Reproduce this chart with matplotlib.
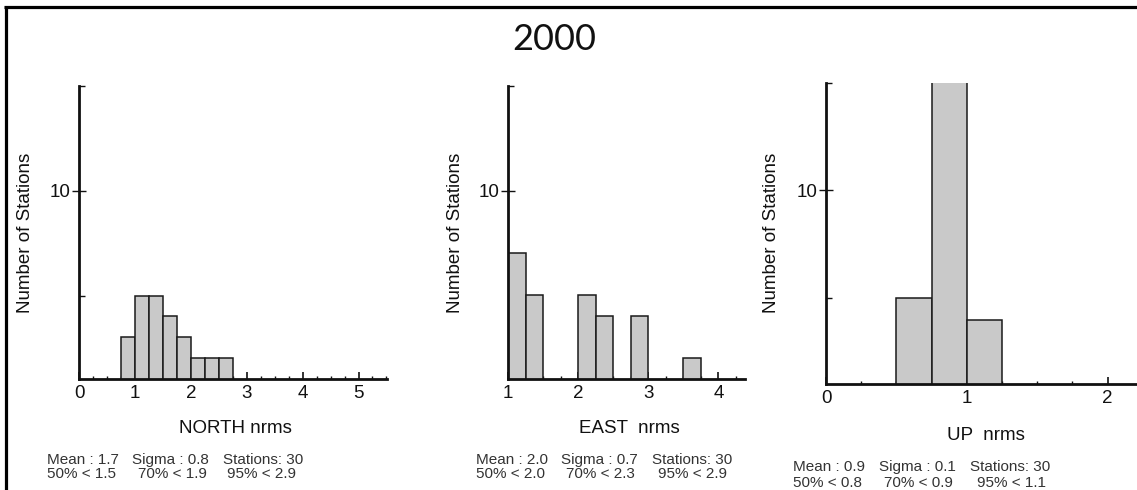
import matplotlib
matplotlib.use("Agg")
import matplotlib.pyplot as plt
from matplotlib.lines import Line2D
from matplotlib.ticker import FixedLocator, MultipleLocator

# ---------------- data ----------------
title = "2000"
bin_width = 0.25

north_bin_left = [0.75, 1.00, 1.25, 1.50, 1.75, 2.00, 2.25, 2.50]
north_counts = [3, 5, 5, 4, 3, 2, 2, 2]

east_bin_left = [1.00, 1.25, 2.00, 2.25, 2.75, 3.50]
east_counts = [7, 5, 5, 4, 4, 2]

up_bin_left = [0.50, 0.75, 1.00]
up_counts = [5, 21, 4]

x_labels = ["NORTH nrms", "EAST  nrms", "UP  nrms"]
y_label = "Number of Stations"

stats_line1 = [["Mean : 1.7", "Sigma : 0.8", "Stations: 30"],
               ["Mean : 2.0", "Sigma : 0.7", "Stations: 30"],
               ["Mean : 0.9", "Sigma : 0.1", "Stations: 30"]]
stats_line2 = [["50% < 1.5", "70% < 1.9", "95% < 2.9"],
               ["50% < 2.0", "70% < 2.3", "95% < 2.9"],
               ["50% < 0.8", "70% < 0.9", "95% < 1.1"]]

x_major_ticks = [[0, 1, 2, 3, 4, 5], [1, 2, 3, 4], [0, 1, 2]]
y_major_ticks = [10]
y_minor_ticks = [5, 15]

# ---------------- layout ----------------
W, H = 1137, 490
fig = plt.figure(figsize=(W / 100, H / 100), dpi=100)
fig.patch.set_facecolor("white")

def px(x, y):
    return x / W, 1 - y / H

def ax_rect(left, bottom, right, top):
    return [left / W, 1 - bottom / H, (right - left) / W, (bottom - top) / H]

panels = [
    dict(rect=ax_rect(79.3, 379.3, 387, 86), xlim=(0, 5.51),
         lefts=north_bin_left, counts=north_counts,
         xlab=(235.5, 428), ylab=(26, 232.5),
         cols1=[46.7, 132, 223], cols2=[46.7, 138, 227], rows=(460, 474)),
    dict(rect=ax_rect(508.3, 379.3, 745, 85.7), xlim=(1, 4.38),
         lefts=east_bin_left, counts=east_counts,
         xlab=(629, 428), ylab=(455, 232.5),
         cols1=[475.7, 561, 651.7], cols2=[475.7, 565.7, 657.7], rows=(460, 474)),
    dict(rect=ax_rect(826, 384.3, 1140, 82.7), xlim=(0, 2.23),
         lefts=up_bin_left, counts=up_counts,
         xlab=(986, 435.7), ylab=(771.7, 233),
         cols1=[793, 879, 970], cols2=[793, 884, 977], rows=(467, 483)),
]

sans = ["Liberation Sans", "DejaVu Sans"]
stat_color = "#333333"

for i, p in enumerate(panels):
    ax = fig.add_axes(p["rect"])
    ax.set_facecolor("none")
    ax.bar(p["lefts"], p["counts"], width=bin_width, align="edge",
           color="#c9c9c9", edgecolor="#1a1a1a", linewidth=1.1, zorder=3)
    ax.set_xlim(*p["xlim"])
    ax.set_ylim(1, 15)
    for s in ["top", "right"]:
        ax.spines[s].set_visible(False)
    for s in ["left", "bottom"]:
        ax.spines[s].set_linewidth(2.0)
        ax.spines[s].set_color("#111111")
        ax.spines[s].set_zorder(5)
    ax.xaxis.set_major_locator(FixedLocator(x_major_ticks[i]))
    ax.xaxis.set_minor_locator(MultipleLocator(0.25))
    ax.yaxis.set_major_locator(FixedLocator(y_major_ticks))
    ax.yaxis.set_minor_locator(FixedLocator(y_minor_ticks))
    ax.tick_params(axis="x", which="major", direction="in", length=5, width=1.2,
                   labelsize=13.5, pad=4, colors="#111111")
    ax.tick_params(axis="x", which="minor", direction="in", length=2.5, width=1.0,
                   colors="#111111")
    ax.tick_params(axis="y", which="major", direction="inout", length=10, width=1.0,
                   labelsize=13.5, pad=1, colors="#111111")
    ax.tick_params(axis="y", which="minor", direction="in", length=4.5, width=1.0,
                   colors="#111111")
    for lab in ax.get_xticklabels() + ax.get_yticklabels():
        lab.set_fontfamily(sans)
    ax.set_xlabel(x_labels[i], fontsize=13.5, fontfamily=sans, color="#111111")
    ax.xaxis.set_label_coords(*px(*p["xlab"]), transform=fig.transFigure)
    ax.xaxis.label.set_va("center")
    ax.set_ylabel(y_label, fontsize=13.5, fontfamily=sans, color="#111111")
    ax.yaxis.set_label_coords(*px(*p["ylab"]), transform=fig.transFigure)
    ax.yaxis.label.set_va("center")
    for j in range(3):
        fig.text(*px(p["cols1"][j], p["rows"][0]), stats_line1[i][j], fontsize=11,
                 fontfamily=sans, color=stat_color, ha="left", va="center")
        fig.text(*px(p["cols2"][j], p["rows"][1]), stats_line2[i][j], fontsize=11,
                 fontfamily=sans, color=stat_color, ha="left", va="center")

fig.text(*px(554, 39), title, fontsize=26, fontfamily=["Lato", "DejaVu Sans"],
         color="#111111", ha="center", va="center")

# frame lines (top and left)
fig.add_artist(Line2D([4 / W, 1], [1 - 7.5 / H, 1 - 7.5 / H], transform=fig.transFigure,
                      color="black", linewidth=2.3, solid_capstyle="butt"))
fig.add_artist(Line2D([5.5 / W, 5.5 / W], [0, 1 - 6 / H], transform=fig.transFigure,
                      color="black", linewidth=2.3, solid_capstyle="butt"))

fig.savefig("out.png", dpi=100, facecolor="white")
